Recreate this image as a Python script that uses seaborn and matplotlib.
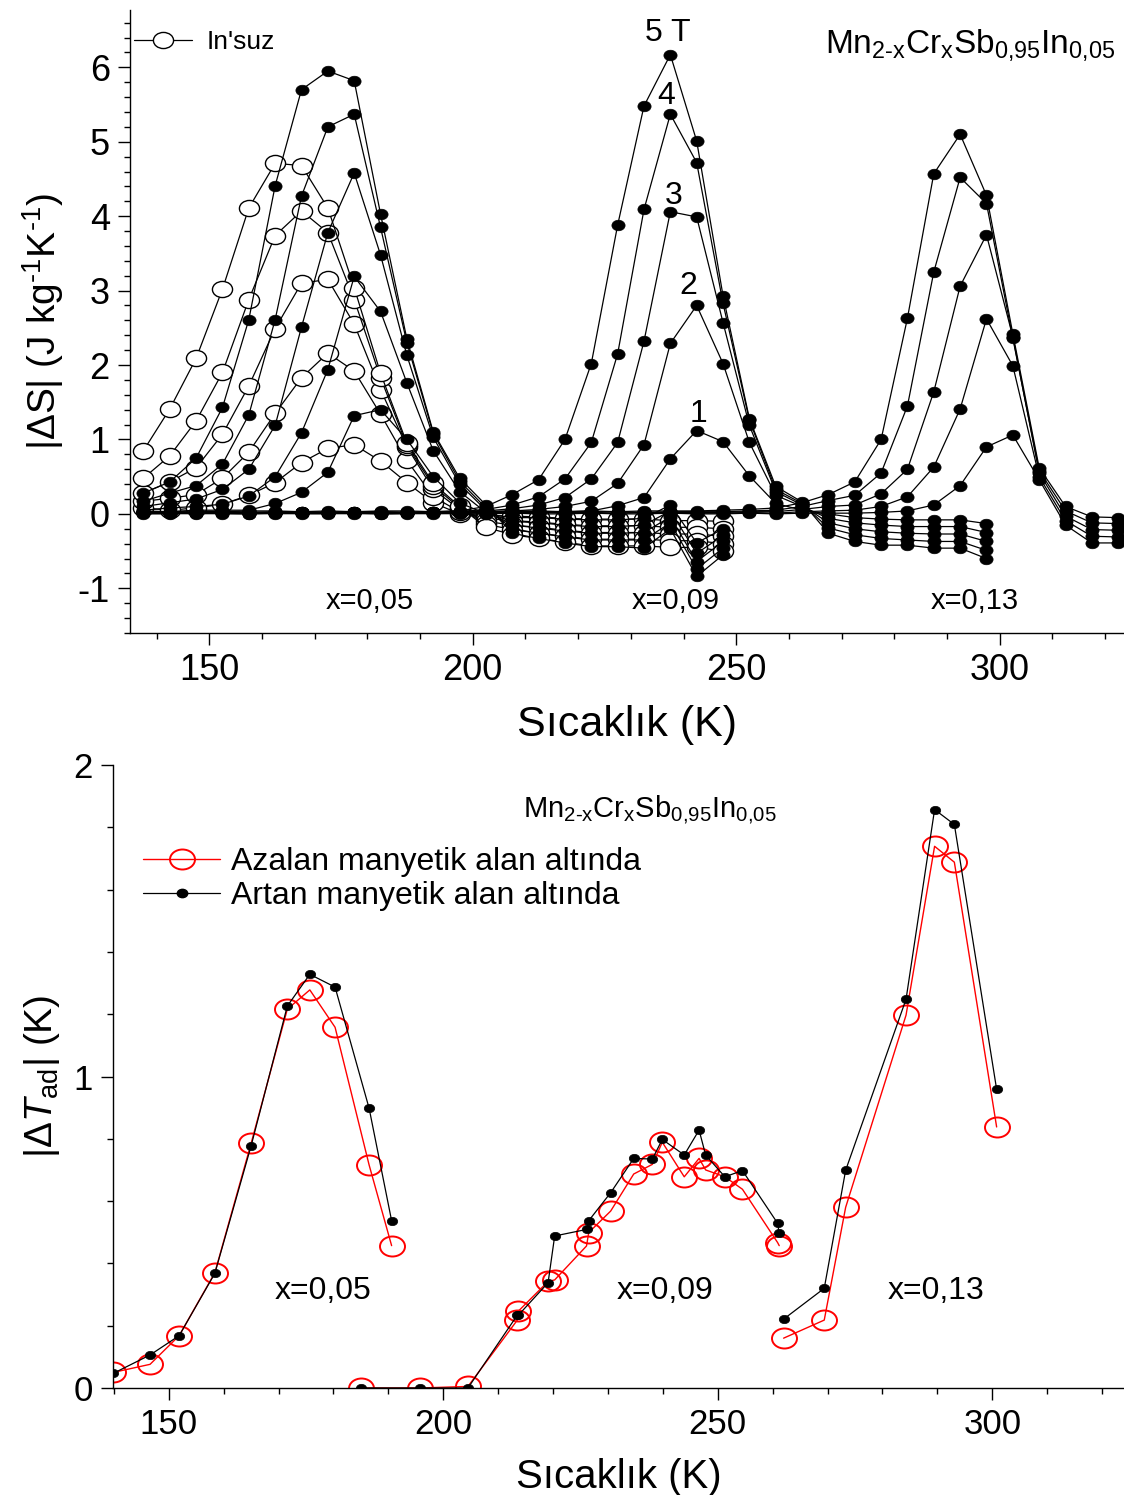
import numpy as np
import matplotlib
matplotlib.use("Agg")
import matplotlib.pyplot as plt
import matplotlib.ticker as mticker
from matplotlib.path import Path
from matplotlib.lines import Line2D
import seaborn as sns

sns.set_style("ticks")
plt.rcParams['font.family'] = ['Liberation Sans', 'DejaVu Sans']
plt.rcParams['mathtext.fontset'] = 'custom'
plt.rcParams['mathtext.rm'] = 'Liberation Sans'
plt.rcParams['mathtext.it'] = 'Liberation Sans:italic'
plt.rcParams['mathtext.bf'] = 'Liberation Sans:bold'
plt.rcParams['axes.unicode_minus'] = False
plt.rcParams['text.color'] = 'black'
plt.rcParams['axes.labelcolor'] = 'black'
plt.rcParams['xtick.color'] = 'black'
plt.rcParams['ytick.color'] = 'black'

# ---------------- top panel data: |dS| vs T ----------------
T_grid = [137.5, 142.5, 147.5, 152.5, 157.5, 162.5, 167.5, 172.5, 177.5, 182.5,
          187.5, 192.5, 197.5, 202.5, 207.5, 212.5, 217.5, 222.5, 227.5, 232.5,
          237.5, 242.5, 247.5, 252.5, 257.5, 262.5, 267.5, 272.5, 277.5, 282.5,
          287.5, 292.5, 297.5, 302.5, 307.5, 312.5, 317.5, 322.5]
fields = ["1 T", "2 T", "3 T", "4 T", "5 T"]

# x = 0,05 (filled), 137.5 ... 247.5 K
x05_1T = [0.02, 0.03, 0.05, 0.05, 0.05, 0.14, 0.29, 0.56, 1.32, 1.40, 1.00, 0.50, 0.15, 0.00, -0.05, -0.05, -0.07, -0.08, -0.08, -0.06, 0.12, -0.39, -0.20]
x05_2T = [0.05, 0.08, 0.10, 0.13, 0.24, 0.50, 1.09, 1.94, 3.19, 2.72, 1.76, 0.85, 0.30, 0.02, -0.10, -0.12, -0.15, -0.17, -0.17, -0.15, 0.04, -0.53, -0.29]
x05_3T = [0.10, 0.15, 0.20, 0.33, 0.60, 1.19, 2.51, 3.78, 4.58, 3.48, 2.13, 1.03, 0.40, 0.05, -0.15, -0.19, -0.23, -0.26, -0.26, -0.25, -0.04, -0.64, -0.37]
x05_4T = [0.17, 0.28, 0.38, 0.67, 1.33, 2.61, 4.27, 5.20, 5.37, 3.85, 2.30, 1.08, 0.44, 0.08, -0.20, -0.26, -0.31, -0.35, -0.35, -0.35, -0.12, -0.74, -0.46]
x05_5T = [0.28, 0.43, 0.75, 1.43, 2.61, 4.41, 5.70, 5.95, 5.82, 4.03, 2.35, 1.10, 0.48, 0.12, -0.26, -0.33, -0.39, -0.44, -0.44, -0.46, -0.20, -0.84, -0.55]

# In'suz (open circles), 137.5 ... 247.5 K
ins_1T = [0.08, 0.05, 0.08, 0.13, 0.25, 0.42, 0.69, 0.88, 0.93, 0.71, 0.42, 0.15, 0.00, -0.02, -0.03, -0.04, -0.06, -0.07, -0.07, -0.07, -0.09, -0.09, -0.10]
ins_2T = [0.17, 0.21, 0.26, 0.48, 0.83, 1.35, 1.83, 2.16, 1.92, 1.34, 0.72, 0.23, 0.03, -0.06, -0.09, -0.11, -0.14, -0.16, -0.16, -0.16, -0.18, -0.18, -0.20]
ins_3T = [0.28, 0.43, 0.62, 1.07, 1.72, 2.49, 3.10, 3.15, 2.55, 1.67, 0.90, 0.33, 0.06, -0.10, -0.15, -0.18, -0.22, -0.25, -0.25, -0.25, -0.27, -0.27, -0.30]
ins_4T = [0.48, 0.78, 1.25, 1.90, 2.88, 3.74, 4.07, 3.78, 2.88, 1.83, 0.92, 0.38, 0.08, -0.14, -0.21, -0.26, -0.30, -0.34, -0.34, -0.34, -0.36, -0.36, -0.40]
ins_5T = [0.85, 1.41, 2.09, 3.02, 4.11, 4.71, 4.68, 4.11, 3.04, 1.89, 0.95, 0.41, 0.10, -0.18, -0.28, -0.33, -0.38, -0.43, -0.43, -0.43, -0.45, -0.45, -0.50]

# x = 0,09 (filled), 137.5 ... 297.5 K
x09_1T = [0.01, 0.01, 0.00, 0.01, 0.01, 0.00, 0.01, 0.01, 0.00, 0.01, 0.01, 0.00, 0.01,
          0.02, 0.02, 0.03, 0.03, 0.04, 0.11, 0.22, 0.74, 1.12, 0.97, 0.51, 0.14, 0.05, 0.00, -0.05, -0.07, -0.08, -0.08, -0.08, -0.13]
x09_2T = [0.01, 0.01, 0.01, 0.01, 0.00, 0.01, 0.01, 0.01, 0.01, 0.00, 0.01, 0.01, 0.02,
          0.03, 0.04, 0.06, 0.10, 0.17, 0.41, 0.93, 2.29, 2.80, 2.02, 0.96, 0.25, 0.10, -0.06, -0.12, -0.15, -0.17, -0.17, -0.17, -0.25]
x09_3T = [0.02, 0.01, 0.01, 0.02, 0.01, 0.01, 0.02, 0.01, 0.01, 0.02, 0.01, 0.02, 0.02,
          0.04, 0.07, 0.12, 0.22, 0.47, 0.96, 2.32, 4.06, 3.99, 2.57, 1.19, 0.30, 0.12, -0.12, -0.20, -0.24, -0.26, -0.27, -0.27, -0.37]
x09_4T = [0.02, 0.02, 0.01, 0.02, 0.02, 0.01, 0.02, 0.02, 0.02, 0.02, 0.02, 0.02, 0.03,
          0.06, 0.12, 0.23, 0.47, 0.96, 2.15, 4.09, 5.37, 4.72, 2.83, 1.26, 0.33, 0.14, -0.19, -0.28, -0.33, -0.35, -0.37, -0.37, -0.49]
x09_5T = [0.03, 0.02, 0.02, 0.03, 0.02, 0.02, 0.03, 0.02, 0.03, 0.03, 0.02, 0.03, 0.04,
          0.10, 0.26, 0.46, 1.00, 2.02, 3.88, 5.48, 6.17, 5.01, 2.93, 1.28, 0.37, 0.16, -0.26, -0.37, -0.42, -0.42, -0.46, -0.46, -0.60]

# x = 0,13 (filled), 137.5 ... 322.5 K
x13_1T = [0.00, 0.00, 0.01, 0.00, 0.00, 0.01, 0.00, 0.00, 0.01, 0.00, 0.00, 0.01, 0.00, 0.00, 0.01, 0.00, 0.00, 0.01, 0.00, 0.00, 0.01, 0.00, 0.00, 0.01, 0.00,
          0.01, 0.01, 0.01, 0.02, 0.04, 0.12, 0.38, 0.90, 1.06, 0.46, -0.15, -0.39, -0.39]
x13_2T = [0.01, 0.01, 0.01, 0.02, 0.01, 0.01, 0.01, 0.02, 0.01, 0.01, 0.01, 0.02, 0.01, 0.01, 0.01, 0.02, 0.01, 0.01, 0.01, 0.02, 0.01, 0.01, 0.01, 0.02, 0.01,
          0.03, 0.04, 0.05, 0.10, 0.23, 0.63, 1.41, 2.62, 1.99, 0.50, -0.09, -0.30, -0.31]
x13_3T = [0.02, 0.02, 0.01, 0.02, 0.02, 0.02, 0.01, 0.02, 0.02, 0.02, 0.01, 0.02, 0.02, 0.02, 0.01, 0.02, 0.02, 0.02, 0.01, 0.02, 0.02, 0.02, 0.02, 0.03, 0.03,
          0.06, 0.10, 0.12, 0.27, 0.60, 1.64, 3.06, 3.75, 2.38, 0.55, -0.03, -0.21, -0.22]
x13_4T = [0.03, 0.02, 0.03, 0.03, 0.02, 0.03, 0.03, 0.02, 0.03, 0.03, 0.02, 0.03, 0.03, 0.02, 0.03, 0.03, 0.02, 0.03, 0.03, 0.02, 0.03, 0.03, 0.03, 0.04, 0.05,
          0.10, 0.18, 0.25, 0.55, 1.45, 3.25, 4.52, 4.17, 2.36, 0.58, 0.04, -0.12, -0.13]
x13_5T = [0.04, 0.03, 0.04, 0.03, 0.04, 0.04, 0.03, 0.04, 0.03, 0.04, 0.04, 0.03, 0.04, 0.03, 0.04, 0.04, 0.03, 0.04, 0.03, 0.04, 0.04, 0.04, 0.05, 0.06, 0.08,
          0.15, 0.26, 0.43, 1.00, 2.63, 4.57, 5.10, 4.28, 2.42, 0.62, 0.10, -0.04, -0.05]

field_labels = ["5 T", "4", "3", "2", "1"]
field_label_T = [237.1, 236.7, 238.2, 241.0, 242.8]
field_label_v = [6.46, 5.61, 4.27, 3.06, 1.34]
sample_labels = ["x=0,05", "x=0,09", "x=0,13"]
sample_label_T_top = [180.5, 238.6, 295.3]
sample_label_T_bot = [178.1, 240.4, 289.8]

# ---------------- bottom panel data: |dTad| vs T ----------------
T05_b = [139.9, 146.6, 151.9, 158.4, 165.0, 171.6, 175.7, 180.3, 186.5, 190.6]
inc05 = [0.047, 0.106, 0.168, 0.368, 0.777, 1.226, 1.328, 1.287, 0.898, 0.537]
dec05 = [0.050, 0.076, 0.168, 0.370, 0.785, 1.216, 1.278, 1.158, 0.716, 0.457]

T09_b = [185.0, 195.7, 204.5, 213.5, 213.7, 219.1, 220.3, 226.1, 226.5, 230.5,
         234.7, 238.1, 239.9, 243.9, 246.6, 247.8, 251.3, 254.5, 260.9, 261.2]
inc09 = [0.0, 0.0, 0.0, 0.234, 0.234, 0.338, 0.488, 0.509, 0.537, 0.627,
         0.737, 0.735, 0.798, 0.748, 0.828, 0.748, 0.678, 0.698, 0.529, 0.497]
dec09 = [0.0, 0.0, 0.005, 0.218, 0.247, 0.342, 0.347, 0.456, 0.499, 0.568,
         0.687, 0.718, 0.789, 0.678, 0.737, 0.700, 0.678, 0.638, 0.467, 0.457]

T13_b = [262.0, 269.4, 273.3, 284.3, 289.5, 293.1, 300.8]
inc13 = [0.221, 0.320, 0.699, 1.248, 1.857, 1.809, 0.959]
dec13 = [0.160, 0.218, 0.580, 1.197, 1.739, 1.688, 0.838]

# ---------------- figure ----------------
circ = Path.unit_circle()
ELL = Path(circ.vertices * np.array([1.0, 0.8]), circ.codes)

fig = plt.figure(figsize=(11.24, 14.95), dpi=100)
W, H = 1124.0, 1495.0
ax1 = fig.add_axes([130 / W, 1 - 633 / H, 994 / W, 623 / H])
ax2 = fig.add_axes([113 / W, 1 - 1388 / H, 1011 / W, 623 / H])

def style_axes(ax, labelsize):
    for s in ["top", "right"]:
        ax.spines[s].set_visible(False)
    for s in ["left", "bottom"]:
        ax.spines[s].set_linewidth(1.0)
        ax.spines[s].set_color("black")
    ax.tick_params(which="major", direction="out", length=8.5, width=1.0,
                   labelsize=labelsize, colors="black", pad=6)
    ax.tick_params(which="minor", direction="out", length=4.3, width=1.0, colors="black")
    ax.grid(False)

TITLE = r"Mn$_{\mathregular{2\text{-}x}}$Cr$_{\mathregular{x}}$Sb$_{\mathregular{0{,}95}}$In$_{\mathregular{0{,}05}}$"

# top panel
open_sets = [ins_1T, ins_2T, ins_3T, ins_4T, ins_5T]
filled_sets = [
    [x05_1T, x05_2T, x05_3T, x05_4T, x05_5T],
    [x09_1T, x09_2T, x09_3T, x09_4T, x09_5T],
    [x13_1T, x13_2T, x13_3T, x13_4T, x13_5T],
]
for vals in open_sets:
    sns.lineplot(x=T_grid[:len(vals)], y=vals, ax=ax1, estimator=None, sort=False,
                 color="black", lw=0.9, marker=ELL, ms=14.5, mfc="white",
                 mec="black", mew=1.0, legend=False, zorder=2)
for group in filled_sets:
    for vals in group:
        sns.lineplot(x=T_grid[:len(vals)], y=vals, ax=ax1, estimator=None, sort=False,
                     color="black", lw=0.9, marker=ELL, ms=9.5, mfc="black",
                     mec="black", mew=0.5, legend=False, zorder=3)

ax1.set_xlim(134.95, 323.6)
ax1.set_ylim(-1.6, 6.77)
ax1.xaxis.set_major_locator(mticker.FixedLocator([150, 200, 250, 300]))
ax1.xaxis.set_minor_locator(mticker.MultipleLocator(10))
ax1.yaxis.set_major_locator(mticker.MultipleLocator(1))
ax1.yaxis.set_minor_locator(mticker.MultipleLocator(0.2))
style_axes(ax1, 26)
ax1.set_xlabel("Sıcaklık (K)", fontsize=31, labelpad=12)
ax1.set_ylabel(r"$|\mathit{\Delta}$S| (J kg$^{\text{-1}}$K$^{\text{-1}}$)", fontsize=28, labelpad=8)

for lab, tx, ty in zip(field_labels, field_label_T, field_label_v):
    ax1.text(tx, ty, lab, fontsize=23, ha="center", va="center")
for lab, tx in zip(sample_labels, sample_label_T_top):
    ax1.text(tx, -1.17, lab, fontsize=21, ha="center", va="center")
ax1.text(0.991, 0.944, TITLE, transform=ax1.transAxes, fontsize=24, ha="right", va="center")

h_ins = Line2D([], [], color="black", lw=0.9, marker=ELL, ms=14.5, mfc="white", mec="black", mew=1.0)
ax1.legend([h_ins], ["In'suz"], loc="upper left", bbox_to_anchor=(0.004, 0.968),
           frameon=False, fontsize=19, handlelength=2.2, handletextpad=0.55,
           borderpad=0.0, borderaxespad=0.0)

# bottom panel
for Tb, dec in [(T05_b, dec05), (T09_b, dec09), (T13_b, dec13)]:
    sns.lineplot(x=Tb, y=dec, ax=ax2, estimator=None, sort=False, color="red", lw=1.0,
                 marker=ELL, ms=18, mfc="none", mec="red", mew=1.4, legend=False, zorder=2)
for Tb, inc in [(T05_b, inc05), (T09_b, inc09), (T13_b, inc13)]:
    sns.lineplot(x=Tb, y=inc, ax=ax2, estimator=None, sort=False, color="black", lw=0.9,
                 marker=ELL, ms=7.5, mfc="black", mec="black", mew=0.5, legend=False, zorder=3)

ax2.set_xlim(139.85, 324.0)
ax2.set_ylim(0, 2)
ax2.xaxis.set_major_locator(mticker.FixedLocator([150, 200, 250, 300]))
ax2.xaxis.set_minor_locator(mticker.MultipleLocator(10))
ax2.yaxis.set_major_locator(mticker.MultipleLocator(1))
ax2.yaxis.set_minor_locator(mticker.MultipleLocator(0.2))
style_axes(ax2, 25)
ax2.set_xlabel("Sıcaklık (K)", fontsize=29, labelpad=12)
ax2.set_ylabel(r"$|\mathit{\Delta T}_{\mathregular{ad}}|$ (K)", fontsize=28, labelpad=8)

for lab, tx in zip(sample_labels, sample_label_T_bot):
    ax2.text(tx, 0.311, lab, fontsize=23, ha="center", va="center")
ax2.text(0.531, 0.928, TITLE, transform=ax2.transAxes, fontsize=21, ha="center", va="center")

h_dec = Line2D([], [], color="red", lw=1.0, marker=ELL, ms=18, mfc="none", mec="red", mew=1.4)
h_inc = Line2D([], [], color="black", lw=0.9, marker=ELL, ms=7.5, mfc="black", mec="black")
ax2.legend([h_dec, h_inc], ["Azalan manyetik alan altında", "Artan manyetik alan altında"],
           loc="upper left", bbox_to_anchor=(0.03, 0.868), frameon=False, fontsize=23,
           handlelength=2.4, handletextpad=0.35, labelspacing=0.12,
           borderpad=0.0, borderaxespad=0.0)

fig.savefig("out.png", dpi=100)
